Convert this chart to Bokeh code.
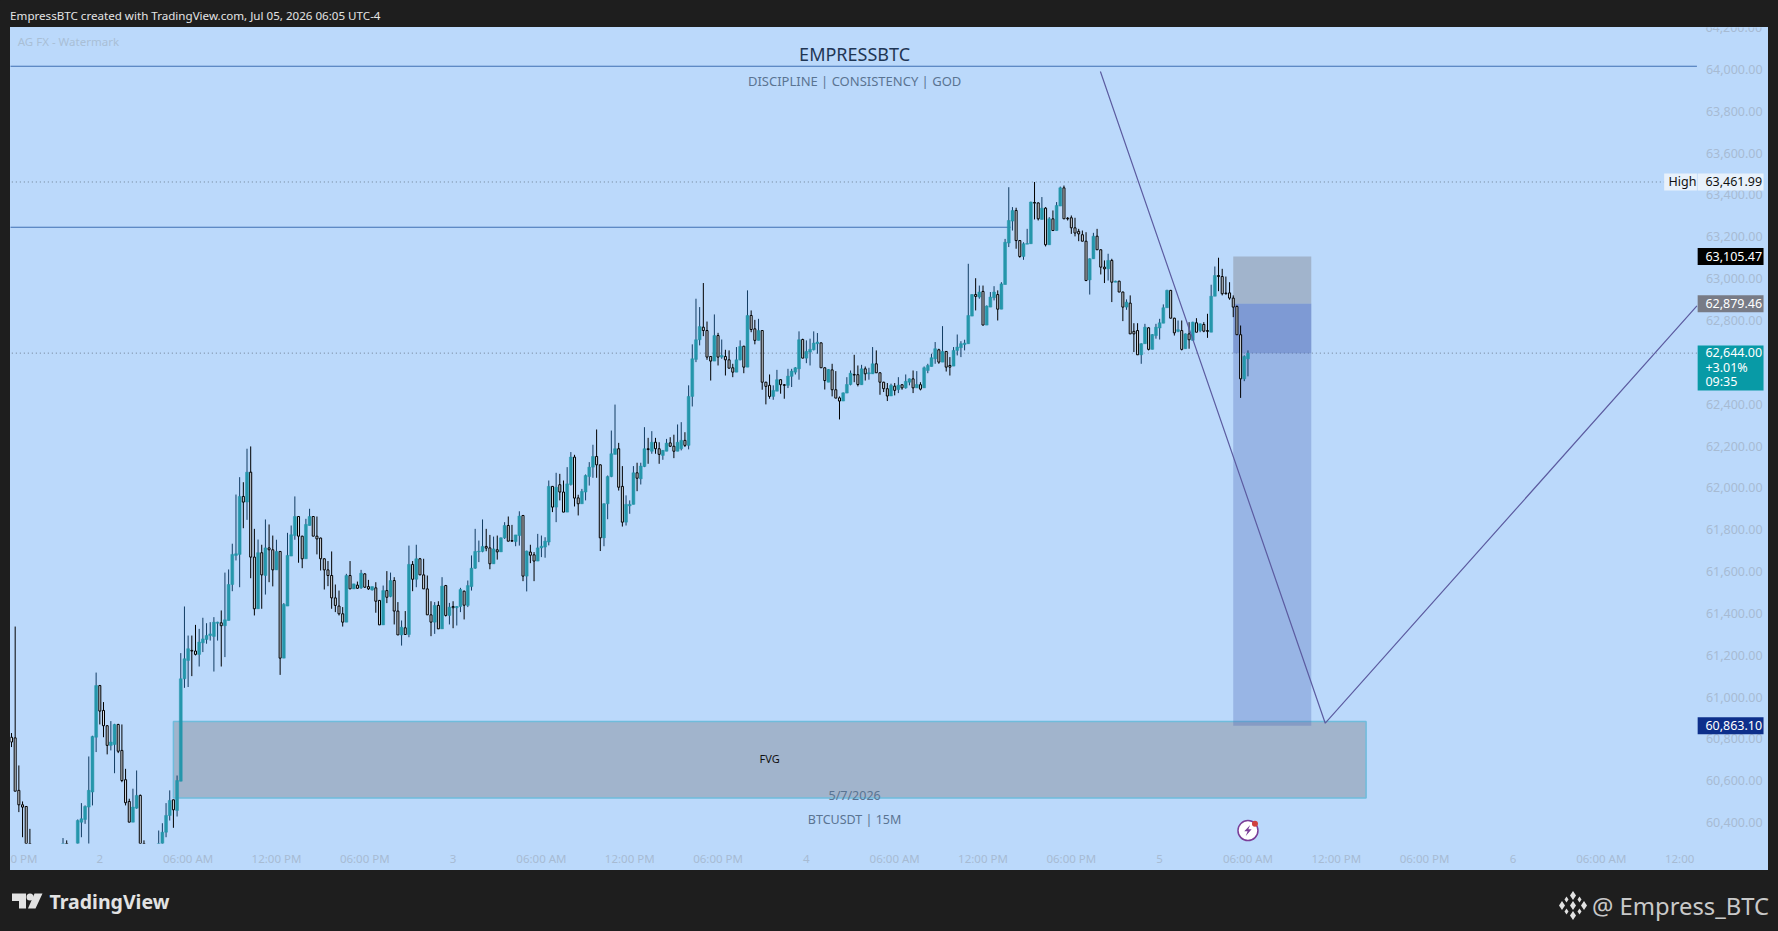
from bokeh.plotting import figure
from bokeh.layouts import column
from bokeh.models import (ColumnDataSource, Range1d, FixedTicker, NumeralTickFormatter, LinearAxis)
from bokeh.core.properties import value
from bokeh.embed import file_html
from bokeh.resources import INLINE

opens = [
60808,60805,60554,60485,60477,60220,60120,60080,60050,60010,
59980,60020,60060,60110,60150,60190,60160,60210,60230,60402,
60415,60474,60546,60808,61055,60936,60863,60769,60773,60869,
60745,60605,60501,60402,60469,60530,60250,60180,60160,60200,
60230,60285,60354,60434,60509,60458,60598,61087,61175,61223,
61220,61204,61259,61275,61294,61290,61353,61355,61341,61366,
61538,61677,61682,61959,61932,62075,61669,61422,61690,61581,
61713,61704,61608,61696,61186,61435,61674,61772,61863,61769,
61661,61820,61863,61769,61760,61661,61608,61581,61474,61435,
61398,61358,61581,61517,61535,61522,61589,61528,61512,61522,
61462,61345,61509,61481,61557,61411,61297,61331,61299,61634,
61563,61661,61584,61517,61393,61358,61438,61326,61533,61390,
61433,61427,61433,61506,61438,61528,61616,61694,61696,61720,
61713,61637,61704,61694,61761,61820,61748,61743,61772,61868,
61578,61693,61680,61650,61713,61717,61741,62007,61908,62015,
61980,61884,62016,62147,61952,61924,61980,62054,62099,62150,
62110,61761,61924,62054,62160,62187,62007,61836,61914,61921,
62072,62043,62102,62187,62175,62218,62187,62155,62175,62215,
62199,62175,62187,62227,62203,62437,62614,62708,62768,62752,
62628,62606,62728,62625,62628,62612,62574,62553,62612,62677,
62577,62824,62760,62705,62752,62505,62490,62437,62462,62517,
62493,62490,62533,62553,62569,62709,62620,62649,62660,62689,
62693,62574,62505,62564,62469,62430,62415,62453,62494,62542,
62541,62493,62569,62545,62545,62593,62550,62505,62474,62439,
62486,62470,62493,62478,62505,62521,62478,62493,62478,62561,
62580,62617,62660,62601,62652,62585,62582,62657,62670,62685,
62689,62821,62924,62912,62939,62778,62864,62909,62924,62854,
62972,63170,63275,63326,63182,63106,63165,63167,63364,63362,
63283,63337,63162,63286,63230,63347,63434,63289,63291,63243,
63226,63210,63179,62994,63095,63203,63138,63055,63047,63087,
62983,62988,62936,62864,62883,62748,62752,62636,62689,62765,
62662,62728,62764,62787,62861,62944,62811,62748,62752,62665,
62736,62705,62789,62752,62781,62752,62744,62916,63015,63010,
62931,62932,62907,62867,62732,62521,62617]
highs = [
60828,61337,60673,60501,60477,60370,60180,60150,60110,60070,
60040,60090,60140,60180,60326,60315,60240,60270,60415,60493,
60482,60716,60815,61117,61058,60976,60866,60885,60872,60872,
60869,60657,60514,60562,60649,60534,60315,60260,60230,60270,
60362,60397,60493,60554,60509,60625,61210,61433,61294,61294,
61345,61326,61379,61353,61358,61382,61360,61414,61595,61610,
61733,61968,62051,62027,62187,62198,61804,61753,61728,61849,
61825,61772,61752,61698,61449,61785,61820,61959,61865,61771,
61852,61900,61865,61863,61762,61663,61650,61696,61538,61509,
61430,61589,61650,61541,61552,61608,61592,61560,61528,61549,
61462,61533,61602,61595,61573,61454,61366,61411,61724,61650,
61728,61665,61661,61581,61458,61454,61458,61573,61536,61450,
61458,61435,61522,61509,61557,61677,61804,61748,61849,61804,
61775,61767,61772,61763,61836,61863,61823,61775,61888,61870,
61700,61728,61693,61780,61772,61764,62035,62009,62072,62067,
62035,62099,62171,62158,61967,61995,62064,62123,62206,62279,
62112,61926,62059,62274,62398,62215,62104,61964,61940,62104,
62120,62120,62290,62239,62271,62239,62218,62181,62234,62242,
62254,62303,62314,62266,62490,62686,62904,62864,62979,62795,
62630,62829,62741,62709,62660,62657,62593,62673,62705,62679,
62944,62848,62803,62808,62754,62507,62542,62490,62564,62519,
62495,62569,62569,62577,62748,62713,62705,62713,62748,62740,
62695,62576,62568,62593,62558,62437,62456,62529,62561,62636,
62585,62588,62580,62574,62673,62657,62552,62507,62501,62498,
62501,62529,62495,62542,62523,62561,62558,62505,62580,62593,
62641,62697,62665,62773,62654,62625,62673,62733,62701,62708,
63071,62926,63002,62967,62967,62872,62936,62964,62944,62983,
63190,63437,63342,63339,63184,63174,63238,63368,63462,63364,
63390,63342,63294,63326,63366,63440,63445,63294,63302,63291,
63238,63230,63222,63097,63219,63238,63140,63087,63119,63095,
62990,62990,62938,62901,62920,62787,62787,62691,62784,62768,
62735,62784,62808,62877,62947,62946,62813,62800,62800,62738,
62792,62794,62811,62786,62792,62832,62971,63058,63100,63047,
63010,62983,62920,62872,62776,62633,62657]
lows = [
60761,60550,60450,60330,60180,60080,60050,60020,59980,59950,
59930,59990,60030,60080,60120,60130,60120,60170,60200,60330,
60394,60280,60482,60737,60869,60808,60726,60745,60636,60732,
60593,60482,60402,60402,60466,60230,60150,60120,60110,60170,
60200,60270,60330,60410,60375,60429,60598,61044,61048,61100,
61199,61146,61215,61255,61270,61122,61270,61146,61191,61366,
61506,61653,61525,61807,61847,61568,61390,61422,61422,61490,
61549,61529,61608,61106,61186,61435,61674,61752,61642,61616,
61661,61820,61769,61682,61605,61514,61530,61422,61406,61390,
61337,61358,61517,61517,61517,61517,61522,61512,61509,61403,
61345,61345,61449,61477,61347,61297,61246,61299,61286,61506,
61525,61584,61517,61393,61291,61302,61326,61326,61385,61347,
61329,61342,61406,61371,61430,61509,61613,61645,61692,61697,
61611,61637,61657,61694,61756,61745,61743,61721,61724,61554,
61505,61640,61554,61650,61669,61666,61725,61884,61836,61940,
61884,61884,62011,61911,61868,61924,61940,62011,62048,62048,
61698,61721,61850,62051,62160,61987,61815,61820,61876,61921,
61984,62016,62099,62115,62163,62163,62115,62134,62175,62195,
62142,62175,62179,62195,62184,62389,62601,62681,62725,62612,
62513,62606,62585,62617,62537,62572,62529,62553,62609,62548,
62577,62744,62686,62705,62469,62399,62426,62421,62462,62450,
62426,62477,62482,62542,62517,62620,62596,62585,62657,62641,
62574,62470,62505,62437,62429,62327,62415,62453,62490,62505,
62485,62493,62513,62517,62545,62550,62445,62458,62415,62439,
62442,62453,62469,62474,62490,62453,62478,62466,62478,62548,
62580,62593,62593,62601,62556,62537,62582,62633,62625,62657,
62689,62821,62848,62904,62778,62778,62864,62896,62800,62854,
62972,63151,63230,63143,63100,63090,63165,63167,63283,63278,
63283,63154,63162,63230,63230,63347,63286,63278,63214,63202,
63179,63179,62988,62924,63095,63138,63020,62979,62991,62888,
62983,62936,62797,62851,62736,62649,62636,62593,62689,62657,
62662,62713,62709,62787,62861,62811,62728,62744,62657,62665,
62665,62705,62744,62744,62744,62717,62744,62916,62940,62920,
62924,62899,62816,62732,62430,62510,62533]
closes = [
60785,60550,60485,60474,60220,60120,60080,60050,60010,59980,
60020,60060,60110,60150,60190,60160,60210,60230,60410,60418,
60477,60554,60812,61055,60933,60863,60769,60785,60869,60741,
60601,60495,60402,60474,60530,60250,60180,60160,60200,60230,
60290,60354,60434,60506,60461,60601,61087,61183,61231,61220,
61204,61263,61278,61294,61302,61358,61358,61341,61369,61538,
61682,61685,61959,61932,62075,61669,61422,61690,61584,61713,
61704,61608,61696,61186,61443,61677,61776,61863,61769,61661,
61825,61863,61769,61756,61661,61608,61581,61474,61438,61398,
61358,61581,61517,61541,61520,61592,61525,61517,61528,61458,
61345,61509,61477,61557,61411,61297,61334,61299,61634,61563,
61661,61584,61517,61393,61358,61438,61326,61530,61390,61430,
61427,61433,61514,61439,61533,61616,61696,61697,61720,61712,
61637,61708,61694,61761,61820,61745,61745,61775,61865,61578,
61698,61678,61650,61713,61721,61745,62007,61908,62003,61980,
61884,62019,62147,61951,61924,61983,62059,62099,62150,62110,
61761,61924,62054,62163,62187,62003,61836,61921,61921,62072,
62046,62104,62187,62183,62218,62187,62160,62179,62214,62199,
62175,62218,62227,62203,62437,62617,62708,62771,62752,62625,
62606,62728,62625,62633,62612,62572,62553,62612,62676,62577,
62824,62757,62705,62752,62505,62485,62437,62466,62517,62493,
62490,62534,62558,62574,62708,62620,62652,62662,62692,62697,
62574,62513,62566,62469,62429,62415,62454,62494,62548,62539,
62494,62569,62545,62550,62593,62550,62505,62474,62439,62490,
62466,62491,62478,62509,62521,62478,62494,62472,62574,62585,
62622,62665,62601,62652,62577,62577,62657,62673,62689,62692,
62824,62924,62915,62936,62778,62869,62912,62936,62854,62975,
63174,63278,63326,63182,63106,63167,63168,63366,63361,63286,
63337,63162,63286,63230,63350,63434,63286,63286,63243,63218,
63214,63179,62991,63095,63203,63138,63055,63047,63087,62983,
62988,62936,62864,62888,62736,62736,62636,62689,62768,62662,
62733,62768,62789,62861,62944,62811,62741,62756,62662,62736,
62708,62792,62744,62784,62749,62748,62916,63015,63010,62928,
62928,62907,62864,62732,62521,62628,62644]

price_ticks = [60400,60600,60800,61000,61200,61400,61600,61800,62000,62200,
               62400,62600,62800,63000,63200,63400,63600,63800,64000]
top_price_label = 64200
time_ticks = [3.1,24,48,72,96,120,144,168,192,216,240,264,288,312,336,360,384,408,432,453.3]
time_labels = ["0 PM","2","06:00 AM","12:00 PM","06:00 PM","3","06:00 AM","12:00 PM","06:00 PM","4",
               "06:00 AM","12:00 PM","06:00 PM","5","06:00 AM","12:00 PM","06:00 PM","6","06:00 AM","12:00"]

view_bottom, view_top = 60300, 64200.5
fvg_start, fvg_end, fvg_top, fvg_bottom = 44.0, 368.1, 60883, 60518
pos_start, pos_end = 332.0, 353.2
stop_price, entry_price, last_price, target_price = 63105.47, 62879.46, 62644.00, 60863.10
high_price = 63461.99
line_upper, line_lower, line_lower_end = 64015, 63246, 271.5
path_x = [295.9, 357.0, 458.0]
path_y = [63990, 60875, 62870]
scale_edge = 458.0
high_tag_edge = 449.1
tag_left, tag_right, tag_text = 458.2, 476.1, 460.3
tag_half = 40.6
last_box_top, last_box_bottom = 62680, 62465
last_rows = [62645, 62574, 62510]
last_texts = ["62,644.00", "+3.01%", "09:35"]

BG = "#bbd9fb"
DARK = "#1e1e1e"
UP = "#2596ab"
UPW = "#123c63"
FONT = "Noto Sans"
FAINT = "#a7bbd3"

# candles wholly below the visible price range leave nothing on the chart
idx = [i for i in range(len(opens)) if highs[i] > view_bottom]
up = [i for i in idx if closes[i] >= opens[i]]
dn = [i for i in idx if closes[i] < opens[i]]
def src(ids):
    return ColumnDataSource(dict(
        x=ids,
        top=[max(opens[i], closes[i]) for i in ids],
        bottom=[max(min(opens[i], closes[i]), view_bottom - 6) for i in ids],
        high=[highs[i] for i in ids],
        low=[max(lows[i], view_bottom - 6) for i in ids]))
s_up, s_dn = src(up), src(dn)

p = figure(width=1758, height=843, output_backend="svg", toolbar_location=None,
           x_range=Range1d(-0.27, 477.45), y_range=Range1d(view_bottom, view_top),
           y_axis_location=None, x_axis_location="below",
           min_border_left=0, min_border_right=0, min_border_top=0, min_border_bottom=27,
           background_fill_color=BG, border_fill_color=BG, outline_line_color=None,
           margin=(0, 0, 0, 10), styles={"background-color": BG})
p.grid.visible = False
yax = LinearAxis(fixed_location=scale_edge)
p.add_layout(yax, "right")
for ax in (p.xaxis[0], yax):
    ax.axis_line_color = None
    ax.major_tick_line_color = None
    ax.minor_tick_line_color = None
    ax.major_tick_in = 0
    ax.major_tick_out = 0
    ax.major_label_text_color = FAINT
    ax.major_label_text_font = FONT
yax.ticker = FixedTicker(ticks=price_ticks)
yax.formatter = NumeralTickFormatter(format="0,0.00")
yax.major_label_text_font_size = "12.5px"
yax.major_label_standoff = 9
p.xaxis[0].ticker = FixedTicker(ticks=time_ticks)
p.xaxis[0].major_label_overrides = {t: l for t, l in zip(time_ticks, time_labels)}
p.xaxis[0].major_label_text_font_size = "11.5px"
p.xaxis[0].major_label_standoff = 7

# overlays below the candles
p.line([-1, high_tag_edge], [high_price, high_price], line_color="#6d7f92", line_width=1, line_dash="1 3")
p.line([-1, scale_edge], [last_price, last_price], line_color="#6d7f92", line_width=1, line_dash="1 3")
p.line([-1, scale_edge], [line_upper, line_upper], line_color="#3f6fb3", line_width=1.1)
p.line([-1, line_lower_end], [line_lower, line_lower], line_color="#3f6fb3", line_width=1.1)
p.quad(left=[fvg_start], right=[fvg_end], top=[fvg_top], bottom=[fvg_bottom],
       fill_color="#737176", fill_alpha=0.35, line_color="#6fbcdc", line_width=1.5)
p.quad(left=[pos_start], right=[pos_end], top=[stop_price], bottom=[entry_price],
       fill_color="#737176", fill_alpha=0.35, line_color=None)
p.quad(left=[pos_start], right=[pos_end], top=[entry_price], bottom=[target_price],
       fill_color="#4a64b2", fill_alpha=0.30, line_color=None)
p.quad(left=[pos_start], right=[pos_end], top=[entry_price], bottom=[last_price],
       fill_color="#4a64b2", fill_alpha=0.33, line_color=None)

# candles
p.segment("x", "high", "x", "low", source=s_up, line_color=UPW, line_width=1)
p.vbar("x", 0.78, "top", "bottom", source=s_up, fill_color=UP, line_color=UP, line_width=0.5)
p.segment("x", "high", "x", "low", source=s_dn, line_color="#000000", line_width=1)
p.vbar("x", 0.55, "top", "bottom", source=s_dn, fill_color="#d5dde6", line_color="#000000", line_width=1)

p.line(path_x, path_y, line_color="#5c5ca0", line_width=1.2)

def note(x, y, txt, color, size, align="center", font=FONT, level="glyph"):
    p.text([x], [y], text=[txt], text_color=color, text_font=value(font),
           text_font_size=size, text_align=align, text_baseline="middle", level=level)

note(229.1, 64072, "EMPRESSBTC", "#1f3654", "18px")
note(229.1, 63945, "DISCIPLINE | CONSISTENCY | GOD", "#5a7492", "13px")
note(206.0, 60704, "FVG", "#111111", "11px")
note(229.1, 60530, "5/7/2026", "#5a7492", "12.5px")
note(229.1, 60415, "BTCUSDT | 15M", "#5a7492", "12.5px")
note(1.7, 64134, "AG FX - Watermark", "#a9bfd6", "11.5px", align="left")
note(tag_text, top_price_label, "64,200.00", FAINT, "12.5px", align="left")

# news icon
icon_x, icon_y = 336.0, 60362
p.scatter([icon_x], [icon_y], size=20, marker="circle", fill_color="#ffffff",
          line_color="#7b3f98", line_width=1.5)
p.patch([icon_x + d for d in (0.6, -1.0, -0.1, -0.6, 1.0, 0.1)],
        [icon_y + d for d in (26, -4, -4, -26, 6, 6)], fill_color="#7b3f98", line_color=None)
p.scatter([icon_x + 1.9], [icon_y + 33], size=6, marker="circle", fill_color="#d0413e", line_color=None)

def box(l, r, t, b, color):
    p.quad(left=[l], right=[r], top=[t], bottom=[b], fill_color=color, line_color=None, level="overlay")

def tag(y, txt, bg, fg):
    box(tag_left, tag_right, y + tag_half, y - tag_half, bg)
    note(tag_text, y, txt, fg, "12.5px", align="left", level="overlay")

box(high_tag_edge, scale_edge, high_price + tag_half, high_price - tag_half, "#e8f1fb")
note(high_tag_edge + 1.2, high_price, "High", "#111111", "12.5px", align="left", level="overlay")
tag(high_price, "63,461.99", "#e8f1fb", "#111111")
tag(stop_price, "63,105.47", "#000000", "#ffffff")
tag(entry_price, "62,879.46", "#787b86", "#ffffff")
tag(target_price, "60,863.10", "#0d2f8b", "#ffffff")
box(tag_left, tag_right, last_box_top, last_box_bottom, "#089aa6")
for row, txt in zip(last_rows, last_texts):
    note(tag_text, row, txt, "#ffffff", "12.5px", align="left", level="overlay")

# header strip
h = figure(width=1778, height=27, output_backend="svg", toolbar_location=None,
           x_range=Range1d(0, 1778), y_range=Range1d(27, 0), x_axis_location=None, y_axis_location=None,
           min_border=0, background_fill_color=DARK, border_fill_color=DARK, outline_line_color=None)
h.grid.visible = False
h.text([9.6], [15], text=["EmpressBTC created with TradingView.com, Jul 05, 2026 06:05 UTC-4"],
       text_color="#e4e4e4", text_font=value(FONT), text_font_size="11.6px",
       text_align="left", text_baseline="middle")

# footer strip
f = figure(width=1778, height=61, output_backend="svg", toolbar_location=None,
           x_range=Range1d(0, 1778), y_range=Range1d(931, 870), x_axis_location=None, y_axis_location=None,
           min_border=0, background_fill_color=DARK, border_fill_color=DARK, outline_line_color=None)
f.grid.visible = False
LOGO = "#e2e2e2"
f.patch([11.5, 25.5, 25.5, 18.5, 18.5, 11.5], [893, 893, 908, 908, 900.5, 900.5], fill_color=LOGO, line_color=None)
f.scatter([29.5], [896.5], size=7, marker="circle", fill_color=LOGO, line_color=None)
f.patch([34, 42, 35, 27.5], [893, 893, 908, 908], fill_color=LOGO, line_color=None)
f.text([49], [901], text=["TradingView"], text_color=LOGO, text_font=value(FONT), text_font_size="19.5px",
       text_font_style="bold", text_align="left", text_baseline="middle")
f.text([1591.5], [905], text=["@ Empress_BTC"], text_color="#c9c9c9", text_font=value(FONT), text_font_size="23.8px",
       text_align="left", text_baseline="middle")
f.scatter([1572.5, 1572.5, 1561.5, 1583.5], [895, 915, 905, 905], size=9, marker="diamond", fill_color=LOGO, line_color=None)
f.scatter([1572.5], [905], size=9, marker="diamond", fill_color=LOGO, line_color=None)
f.scatter([1566, 1579, 1566, 1579], [899, 899, 911, 911], size=6, marker="diamond", fill_color=LOGO, line_color=None)

page = column(h, p, f, spacing=0)
html = file_html(page, INLINE)
html = html.replace("</head>", "<style>html,body{margin:0;padding:0;background:#1e1e1e;overflow:hidden}</style></head>", 1)
open("out.html", "w").write(html)
